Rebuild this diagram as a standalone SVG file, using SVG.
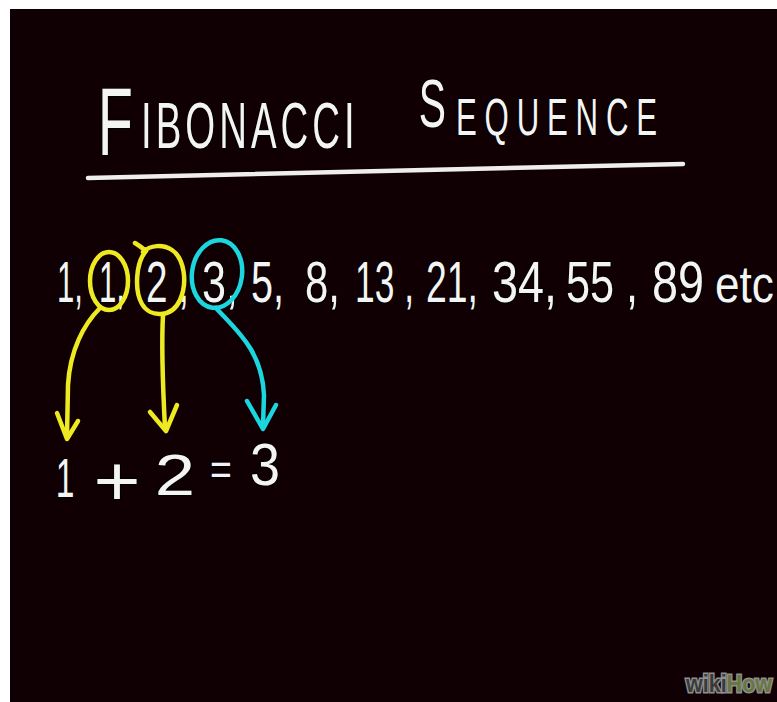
<svg xmlns="http://www.w3.org/2000/svg" width="777" height="702" viewBox="0 0 777 702">
<style>
.t{font-family:"Liberation Sans","DejaVu Sans",sans-serif;fill:#f4f4f4;stroke:#000;stroke-width:2;paint-order:stroke}
.s{font-size:58px}
.y{fill:none;stroke:#eeea22;stroke-width:4.5;stroke-linecap:round;stroke-linejoin:round}
.c{fill:none;stroke:#1bd6df;stroke-width:4.5;stroke-linecap:round;stroke-linejoin:round}
.eq{text-anchor:middle}
</style>
<rect x="0" y="0" width="777" height="702" fill="#ffffff"/>
<rect x="10" y="9" width="767" height="693" fill="#110003"/>
<g id="title">
<text class="t" transform="scale(0.6,1)"><tspan x="163" y="155" font-size="96">F</tspan><tspan y="148" font-size="64" x="235" letter-spacing="6.7">IBONACCI</tspan></text>
<text class="t" transform="scale(0.6,1)"><tspan x="698" y="127" font-size="68">S</tspan><tspan x="760" y="135" font-size="52" letter-spacing="13">EQUENCE</tspan></text>
<line x1="88" y1="178" x2="683" y2="164" stroke="#eeeeee" stroke-width="4.5" stroke-linecap="round"/>
</g>
<g id="sequence">
<text class="t s" transform="translate(57,302) scale(0.537,1)">1,</text>
<text class="t s" transform="translate(99,302) scale(0.537,1)">1,</text>
<text class="t s" transform="translate(146,302) scale(0.667,1)">2 ,</text>
<text class="t s" transform="translate(202,302) scale(0.744,1)">3,</text>
<text class="t s" transform="translate(251,302) scale(0.682,1)">5,</text>
<text class="t s" transform="translate(305,302) scale(0.723,1)">8,</text>
<text class="t s" transform="translate(355,302) scale(0.61,1)">13 ,</text>
<text class="t s" transform="translate(426,302) scale(0.645,1)">21,</text>
<text class="t s" transform="translate(492,302) scale(0.806,1)">34,</text>
<text class="t s" transform="translate(566,302) scale(0.745,1)">55 ,</text>
<text class="t s" transform="translate(652,302) scale(0.806,1)">89</text>
<text class="t" font-size="52" transform="translate(715,302) scale(0.85,1)">etc</text>
</g>
<g id="circle-1"><ellipse class="y" cx="109" cy="281" rx="19" ry="29"/></g>
<g id="circle-2"><path class="y" d="M135 243 Q140 246 146 251 C136 262 134 290 142 304 C150 318 172 318 180 300 C188 282 184 258 172 250 C163 244 150 245 143 252"/></g>
<g id="circle-3"><ellipse class="c" cx="217" cy="274" rx="25" ry="34" transform="rotate(8 217 274)"/></g>
<g id="connectors">
<path class="y" d="M100 308 C84 324 70 350 68 385 L67 436"/>
<path class="y" d="M57 413 L67 439 L78 421"/>
<path class="y" d="M163 315 C161 350 163 390 165 428"/>
<path class="y" d="M150 412 L166 431 L177 405"/>
<path class="c" d="M216 308 C236 330 262 350 264 395 L263 426"/>
<path class="c" d="M247 401 L263 429 L276 405"/>
</g>
<g id="equation">
<text class="t eq" font-size="56" transform="translate(65,497) scale(0.6,1)">1</text>
<text class="t eq" font-size="70" transform="translate(117,505) scale(1.15,1)">+</text>
<text class="t eq" font-size="58" transform="translate(175,495) scale(1.25,1)">2</text>
<text class="t eq" font-size="44" transform="translate(221,485) scale(0.85,1)">=</text>
<text class="t eq" font-size="60" transform="translate(265,485) scale(0.9,1)">3</text>
</g>
<g id="watermark">
<text x="686" y="692" font-family="Liberation Sans,sans-serif" font-weight="bold" font-size="23" stroke="#8f8f8f" stroke-width="3" paint-order="stroke" textLength="86" lengthAdjust="spacingAndGlyphs"><tspan fill="#3a3a3a">wiki</tspan><tspan fill="#66773f">How</tspan></text>
</g>
</svg>
